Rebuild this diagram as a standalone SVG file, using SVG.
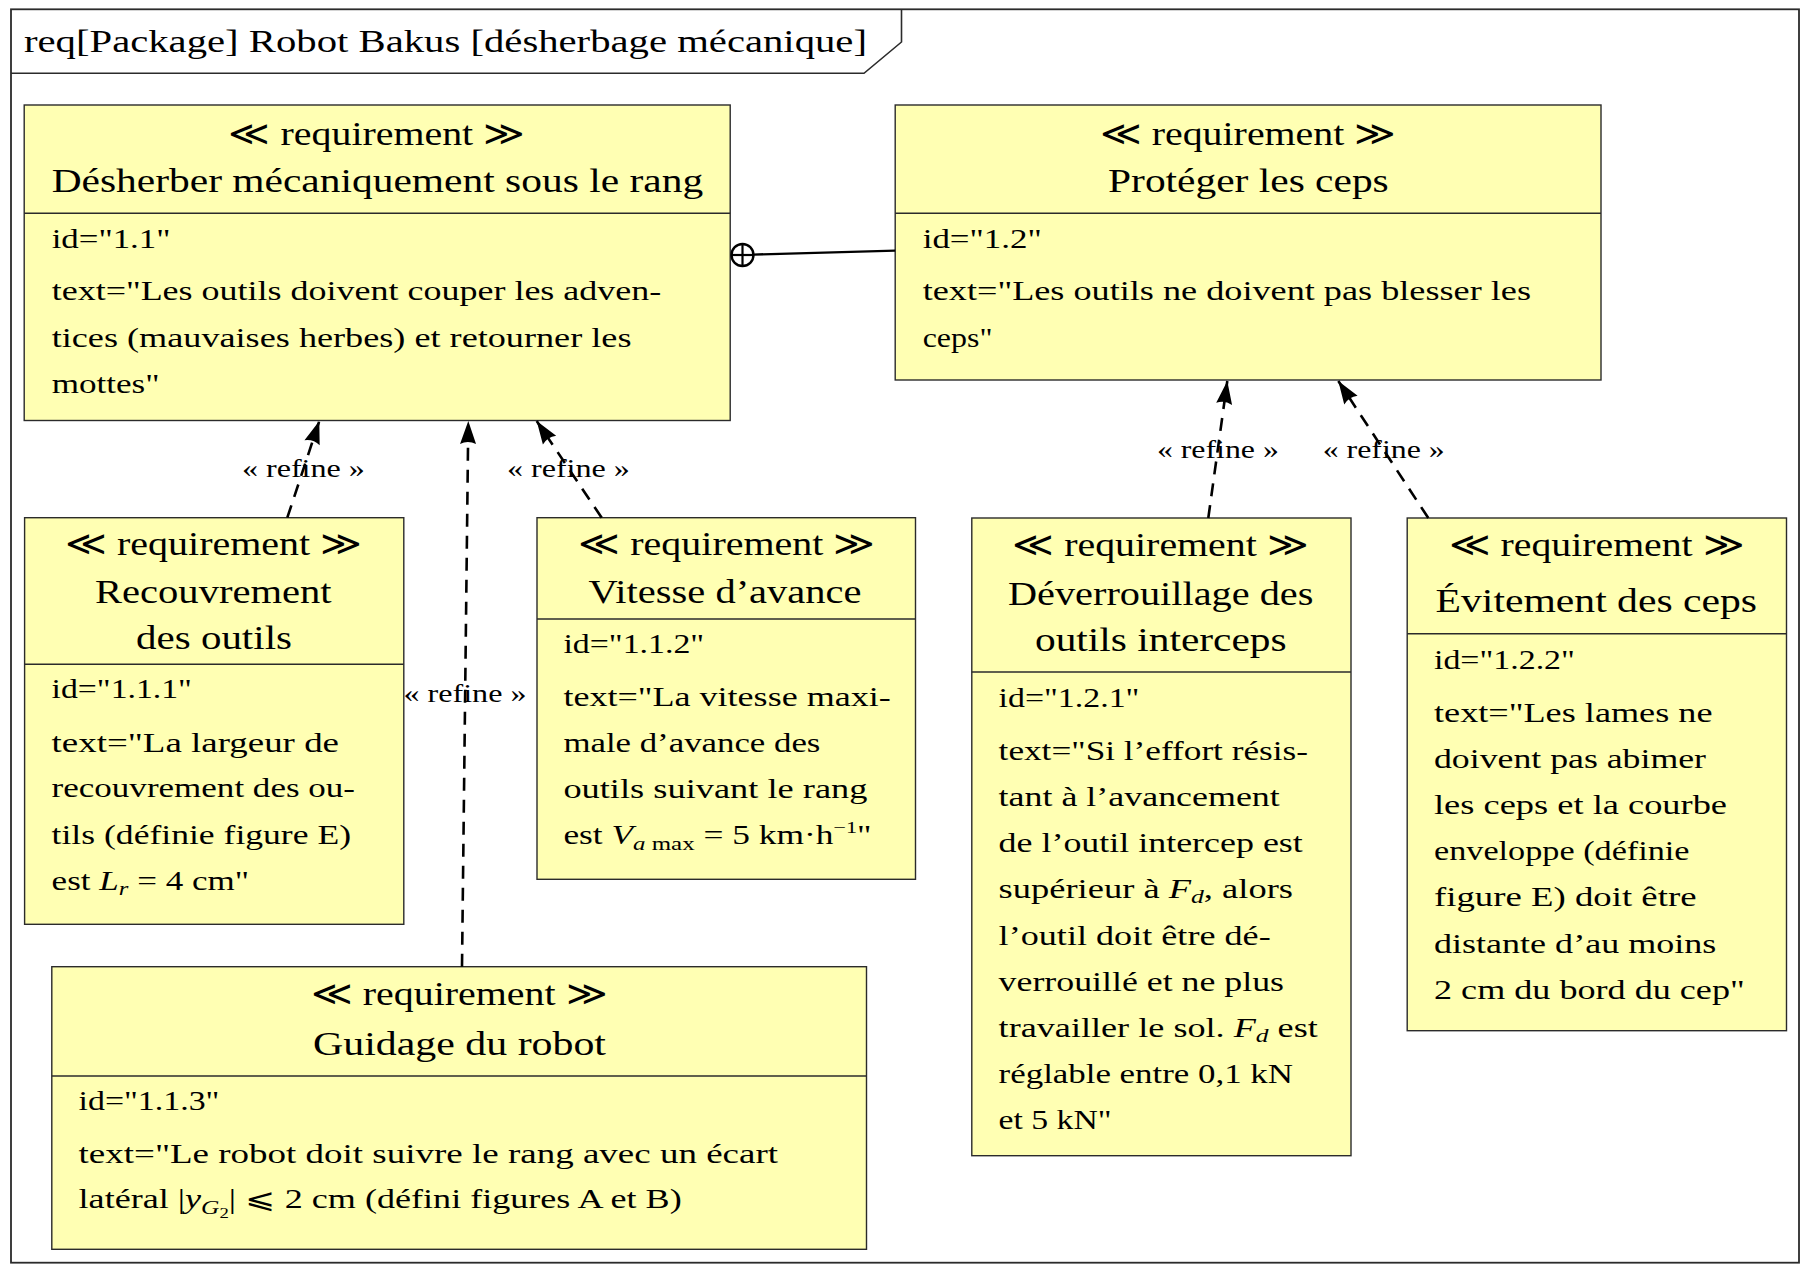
<svg xmlns="http://www.w3.org/2000/svg" width="1806" height="1277" viewBox="0 0 1806 1277">
<style>
text{font-family:"Liberation Serif","DejaVu Serif",serif;fill:#000}
.box{fill:#ffffb3;stroke:#2b2b2b;stroke-width:1.4}
.div{stroke:#2b2b2b;stroke-width:1.4}
.hd{font-size:34px;text-anchor:middle}
.bd{font-size:27px}
.lb{font-size:25px;text-anchor:middle}
.ttl{font-size:31px}
.ref{fill:none;stroke:#000;stroke-width:2.6;stroke-dasharray:13 9}
.it{font-style:italic}
</style>
<defs>
<marker id="arr" markerUnits="userSpaceOnUse" markerWidth="26" markerHeight="20" viewBox="0 0 26 20" refX="24" refY="10" orient="auto">
<path d="M24,10 L1,2 Q5,10 1,18 Z" fill="#000"/>
</marker>
</defs>
<rect width="1806" height="1277" fill="#fff"/>
<g id="frame">
<rect x="11" y="9.3" width="1788" height="1253.4" fill="none" stroke="#2b2b2b" stroke-width="1.8"/>
<path d="M11,73.3 L864,73.3 L901.5,42 L901.5,9.3" fill="none" stroke="#2b2b2b" stroke-width="1.6"/>
<text class="ttl" x="24" y="51.7" textLength="843" lengthAdjust="spacingAndGlyphs">req[Package] Robot Bakus [désherbage mécanique]</text>
</g>

<g id="req-1-1">
<rect class="box" x="24.2" y="105" width="706" height="315.5"/>
<line class="div" x1="24.2" y1="213.3" x2="730.2" y2="213.3"/>
<text class="hd" x="376.9" y="145" textLength="297" lengthAdjust="spacingAndGlyphs">≪ requirement ≫</text>
<text class="hd" x="377.4" y="192.3" textLength="651.5" lengthAdjust="spacingAndGlyphs">Désherber mécaniquement sous le rang</text>
<text class="bd" x="51.7" y="248.3" textLength="118.8" lengthAdjust="spacingAndGlyphs">id="1.1"</text>
<text class="bd" x="51.7" y="300" textLength="609.6" lengthAdjust="spacingAndGlyphs">text="Les outils doivent couper les adven-</text>
<text class="bd" x="51.7" y="346.7" textLength="579.8" lengthAdjust="spacingAndGlyphs">tices (mauvaises herbes) et retourner les</text>
<text class="bd" x="51.7" y="392.7" textLength="107.9" lengthAdjust="spacingAndGlyphs">mottes"</text>
</g>

<g id="req-1-2">
<rect class="box" x="895.2" y="105" width="705.8" height="275"/>
<line class="div" x1="895.2" y1="213.3" x2="1601" y2="213.3"/>
<text class="hd" x="1248" y="145" textLength="297" lengthAdjust="spacingAndGlyphs">≪ requirement ≫</text>
<text class="hd" x="1248.4" y="192.3" textLength="280.7" lengthAdjust="spacingAndGlyphs">Protéger les ceps</text>
<text class="bd" x="922.7" y="248.3" textLength="119" lengthAdjust="spacingAndGlyphs">id="1.2"</text>
<text class="bd" x="922.7" y="300" textLength="608.3" lengthAdjust="spacingAndGlyphs">text="Les outils ne doivent pas blesser les</text>
<text class="bd" x="922.7" y="346.7" textLength="69.8" lengthAdjust="spacingAndGlyphs">ceps"</text>
</g>

<g id="req-1-1-1">
<rect class="box" x="24.6" y="517.7" width="379.2" height="406.6"/>
<line class="div" x1="24.6" y1="664.3" x2="403.8" y2="664.3"/>
<text class="hd" x="213.6" y="555" textLength="298" lengthAdjust="spacingAndGlyphs">≪ requirement ≫</text>
<text class="hd" x="213.3" y="603.3" textLength="236.6" lengthAdjust="spacingAndGlyphs">Recouvrement</text>
<text class="hd" x="214" y="649.3" textLength="156" lengthAdjust="spacingAndGlyphs">des outils</text>
<text class="bd" x="51.6" y="698.3" textLength="140.3" lengthAdjust="spacingAndGlyphs">id="1.1.1"</text>
<text class="bd" x="51.6" y="751.7" textLength="287.4" lengthAdjust="spacingAndGlyphs">text="La largeur de</text>
<text class="bd" x="51.6" y="797.3" textLength="303.4" lengthAdjust="spacingAndGlyphs">recouvrement des ou-</text>
<text class="bd" x="51.6" y="844" textLength="299.4" lengthAdjust="spacingAndGlyphs">tils (définie figure E)</text>
<text class="bd" x="51.6" y="890" textLength="197.4" lengthAdjust="spacingAndGlyphs">est  <tspan class="it">L</tspan><tspan class="it" font-size="19" dy="5">r</tspan><tspan dy="-5"> = 4 cm"</tspan></text>
</g>

<g id="req-1-1-2">
<rect class="box" x="537" y="517.7" width="378.5" height="361.6"/>
<line class="div" x1="537" y1="619" x2="915.5" y2="619"/>
<text class="hd" x="726.8" y="555" textLength="297.6" lengthAdjust="spacingAndGlyphs">≪ requirement ≫</text>
<text class="hd" x="725" y="603.3" textLength="272.9" lengthAdjust="spacingAndGlyphs">Vitesse d’avance</text>
<text class="bd" x="563.4" y="653.3" textLength="140.8" lengthAdjust="spacingAndGlyphs">id="1.1.2"</text>
<text class="bd" x="563.4" y="706" textLength="327.4" lengthAdjust="spacingAndGlyphs">text="La vitesse maxi-</text>
<text class="bd" x="563.4" y="751.7" textLength="257" lengthAdjust="spacingAndGlyphs">male d’avance des</text>
<text class="bd" x="563.4" y="798.3" textLength="304" lengthAdjust="spacingAndGlyphs">outils suivant le rang</text>
<text class="bd" x="563.4" y="844" textLength="308.1" lengthAdjust="spacingAndGlyphs">est <tspan class="it">V</tspan><tspan font-size="19" dy="6"><tspan class="it">a</tspan> max</tspan><tspan dy="-6"> = 5 km·h</tspan><tspan font-size="17" dy="-11">−1</tspan><tspan dy="11">"</tspan></text>
</g>

<g id="req-1-1-3">
<rect class="box" x="51.8" y="966.7" width="814.7" height="282.6"/>
<line class="div" x1="51.8" y1="1076" x2="866.5" y2="1076"/>
<text class="hd" x="459.2" y="1005" textLength="297.3" lengthAdjust="spacingAndGlyphs">≪ requirement ≫</text>
<text class="hd" x="459.5" y="1055" textLength="293" lengthAdjust="spacingAndGlyphs">Guidage du robot</text>
<text class="bd" x="78.6" y="1110" textLength="140.8" lengthAdjust="spacingAndGlyphs">id="1.1.3"</text>
<text class="bd" x="78.6" y="1162.7" textLength="699.4" lengthAdjust="spacingAndGlyphs">text="Le robot doit suivre le rang avec un écart</text>
<text class="bd" x="78.6" y="1208.3" textLength="603.1" lengthAdjust="spacingAndGlyphs">latéral |<tspan class="it">y</tspan><tspan class="it" font-size="19" dy="6">G</tspan><tspan font-size="14" dy="4">2</tspan><tspan dy="-10">| ⩽ 2 cm (défini figures A et B)</tspan></text>
</g>

<g id="req-1-2-1">
<rect class="box" x="971.8" y="518" width="379.2" height="637.7"/>
<line class="div" x1="971.8" y1="672" x2="1351" y2="672"/>
<text class="hd" x="1160.5" y="556" textLength="297" lengthAdjust="spacingAndGlyphs">≪ requirement ≫</text>
<text class="hd" x="1160.7" y="604.7" textLength="305.5" lengthAdjust="spacingAndGlyphs">Déverrouillage des</text>
<text class="hd" x="1160.8" y="650.6" textLength="251.7" lengthAdjust="spacingAndGlyphs">outils interceps</text>
<text class="bd" x="998.6" y="706.7" textLength="140.8" lengthAdjust="spacingAndGlyphs">id="1.2.1"</text>
<text class="bd" x="998.6" y="760.3" textLength="309.4" lengthAdjust="spacingAndGlyphs">text="Si l’effort résis-</text>
<text class="bd" x="998.6" y="806.2" textLength="281.2" lengthAdjust="spacingAndGlyphs">tant à l’avancement</text>
<text class="bd" x="998.6" y="852.1" textLength="304.2" lengthAdjust="spacingAndGlyphs">de l’outil intercep est</text>
<text class="bd" x="998.6" y="898.1" textLength="294.4" lengthAdjust="spacingAndGlyphs">supérieur à <tspan class="it">F</tspan><tspan class="it" font-size="19" dy="5">d</tspan><tspan dy="-5">, alors</tspan></text>
<text class="bd" x="998.6" y="945" textLength="272.1" lengthAdjust="spacingAndGlyphs">l’outil doit être dé-</text>
<text class="bd" x="998.6" y="990.9" textLength="285.4" lengthAdjust="spacingAndGlyphs">verrouillé et ne plus</text>
<text class="bd" x="998.6" y="1036.8" textLength="319.2" lengthAdjust="spacingAndGlyphs">travailler le sol. <tspan class="it">F</tspan><tspan class="it" font-size="19" dy="5">d</tspan><tspan dy="-5"> est</tspan></text>
<text class="bd" x="998.6" y="1082.8" textLength="294.4" lengthAdjust="spacingAndGlyphs">réglable entre 0,1 kN</text>
<text class="bd" x="998.6" y="1128.7" textLength="113" lengthAdjust="spacingAndGlyphs">et  5 kN"</text>
</g>

<g id="req-1-2-2">
<rect class="box" x="1407.2" y="518" width="379.3" height="512.7"/>
<line class="div" x1="1407.2" y1="633.8" x2="1786.5" y2="633.8"/>
<text class="hd" x="1596.6" y="556" textLength="296.2" lengthAdjust="spacingAndGlyphs">≪ requirement ≫</text>
<text class="hd" x="1596.3" y="612.3" textLength="321.4" lengthAdjust="spacingAndGlyphs">Évitement des ceps</text>
<text class="bd" x="1434" y="668.5" textLength="140.9" lengthAdjust="spacingAndGlyphs">id="1.2.2"</text>
<text class="bd" x="1434" y="722" textLength="278.5" lengthAdjust="spacingAndGlyphs">text="Les lames ne</text>
<text class="bd" x="1434" y="768" textLength="272" lengthAdjust="spacingAndGlyphs">doivent pas abimer</text>
<text class="bd" x="1434" y="813.9" textLength="293" lengthAdjust="spacingAndGlyphs">les ceps et la courbe</text>
<text class="bd" x="1434" y="859.8" textLength="255.5" lengthAdjust="spacingAndGlyphs">enveloppe (définie</text>
<text class="bd" x="1434" y="905.7" textLength="262.5" lengthAdjust="spacingAndGlyphs">figure E) doit être</text>
<text class="bd" x="1434" y="952.7" textLength="282.3" lengthAdjust="spacingAndGlyphs">distante d’au moins</text>
<text class="bd" x="1434" y="998.6" textLength="310.7" lengthAdjust="spacingAndGlyphs">2 cm du bord du cep"</text>
</g>

<g id="connectors">
<g id="containment">
<circle cx="742.5" cy="255" r="11" fill="none" stroke="#000" stroke-width="2.4"/>
<line x1="731.5" y1="255" x2="753.5" y2="255" stroke="#000" stroke-width="2.2"/>
<line x1="742.5" y1="244" x2="742.5" y2="266" stroke="#000" stroke-width="2.2"/>
<line x1="753.5" y1="254.6" x2="895.2" y2="250.6" stroke="#000" stroke-width="2.4"/>
</g>
<path class="ref" d="M287.3,517.7 L319.3,421" marker-end="url(#arr)"/>
<path class="ref" d="M462,966.7 L468.3,421" marker-end="url(#arr)"/>
<path class="ref" d="M601.7,517.7 L536.7,421" marker-end="url(#arr)"/>
<path class="ref" d="M1208.3,518 L1227.3,381" marker-end="url(#arr)"/>
<path class="ref" d="M1428.3,518 L1338.3,381" marker-end="url(#arr)"/>
<text class="lb" x="303.4" y="476.7" textLength="123" lengthAdjust="spacingAndGlyphs">« refine »</text>
<text class="lb" x="568.4" y="476.7" textLength="123" lengthAdjust="spacingAndGlyphs">« refine »</text>
<text class="lb" x="465" y="701.7" textLength="123" lengthAdjust="spacingAndGlyphs">« refine »</text>
<text class="lb" x="1217.9" y="457.8" textLength="122" lengthAdjust="spacingAndGlyphs">« refine »</text>
<text class="lb" x="1383.7" y="457.8" textLength="122" lengthAdjust="spacingAndGlyphs">« refine »</text>
</g>
</svg>
